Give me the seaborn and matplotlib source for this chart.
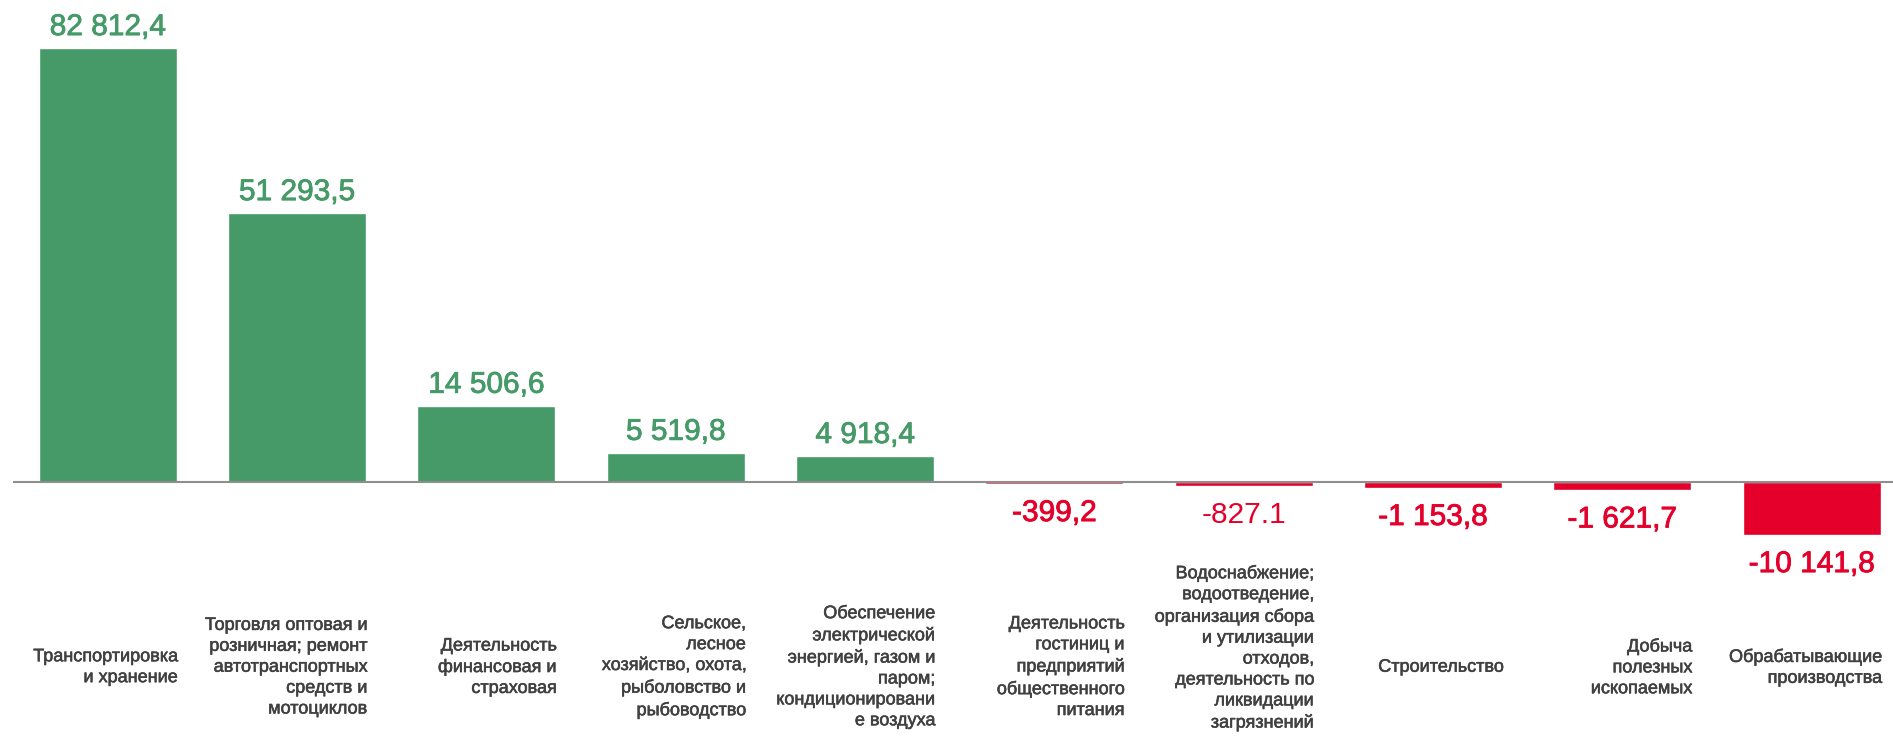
import matplotlib
matplotlib.use("Agg")
import matplotlib.pyplot as plt
import matplotlib.transforms as mtransforms
import matplotlib.patheffects as pe
import seaborn as sns
import pandas as pd

# Data
categories = [
    "Транспортировка\nи хранение",
    "Торговля оптовая и\nрозничная; ремонт\nавтотранспортных\nсредств и\nмотоциклов",
    "Деятельность\nфинансовая и\nстраховая",
    "Сельское,\nлесное\nхозяйство, охота,\nрыболовство и\nрыбоводство",
    "Обеспечение\nэлектрической\nэнергией, газом и\nпаром;\nкондиционировани\nе воздуха",
    "Деятельность\nгостиниц и\nпредприятий\nобщественного\nпитания",
    "Водоснабжение;\nводоотведение,\nорганизация сбора\nи утилизации\nотходов,\nдеятельность по\nликвидации\nзагрязнений",
    "Строительство",
    "Добыча\nполезных\nископаемых",
    "Обрабатывающие\nпроизводства",
]
values = [82812.4, 51293.5, 14506.6, 5519.8, 4918.4,
          -399.2, -827.1, -1153.8, -1621.7, -10141.8]
value_labels = ["82 812,4", "51 293,5", "14 506,6", "5 519,8", "4 918,4",
                "-399,2", "-827.1", "-1 153,8", "-1 621,7", "-10 141,8"]

GREEN = "#459a68"
RED = "#e4002b"
TEXT = "#404040"

sns.set_style("white")
plt.rcParams["font.family"] = ["Liberation Sans", "DejaVu Sans"]

df = pd.DataFrame({"cat": categories, "val": values})
df["sign"] = ["pos" if v >= 0 else "neg" for v in values]

fig = plt.figure(figsize=(18.93, 7.48), dpi=100)
ax = fig.add_axes([13 / 1893, 0, 1880 / 1893, 1])

sns.barplot(data=df, x="cat", y="val", hue="sign",
            palette={"pos": GREEN, "neg": RED}, saturation=1,
            order=categories, dodge=False, width=0.728,
            legend=False, ax=ax, zorder=2)

ax.axhline(0, color="#8e8e8e", lw=1.5, zorder=3)
ax.set_xlim(-0.5, 9.43)
ax.set_ylim(-50850, 91980)
ax.axis("off")

# value labels above / below the bars (thin stroke to get a medium weight)
for i, (v, lab) in enumerate(zip(values, value_labels)):
    color = GREEN if v >= 0 else RED
    heavy = [pe.withStroke(linewidth=0.6, foreground=color)]
    if v >= 0:
        ax.annotate(lab, (i, v), xytext=(0, 5), textcoords="offset points",
                    ha="center", va="bottom", fontsize=21.5, color=color,
                    path_effects=heavy)
    else:
        ax.annotate(lab, (i, v), xytext=(0, -11), textcoords="offset points",
                    ha="center", va="top", fontsize=21.5, color=color,
                    path_effects=[] if "." in lab else heavy)

# category labels under the axis, right aligned to the bar edge
trans = mtransforms.blended_transform_factory(ax.transData, ax.transAxes)
for i, cat in enumerate(categories):
    n_lines = cat.count("\n") + 1
    y = 0.108 if n_lines < 8 else 0.134  # the tallest one is pushed up
    ax.text(i + 0.37, y, cat, transform=trans, ha="right", va="center",
            multialignment="right", fontsize=13, color=TEXT, linespacing=1.3,
            path_effects=[pe.withStroke(linewidth=0.4, foreground=TEXT)])

fig.savefig("out.png", dpi=100)
